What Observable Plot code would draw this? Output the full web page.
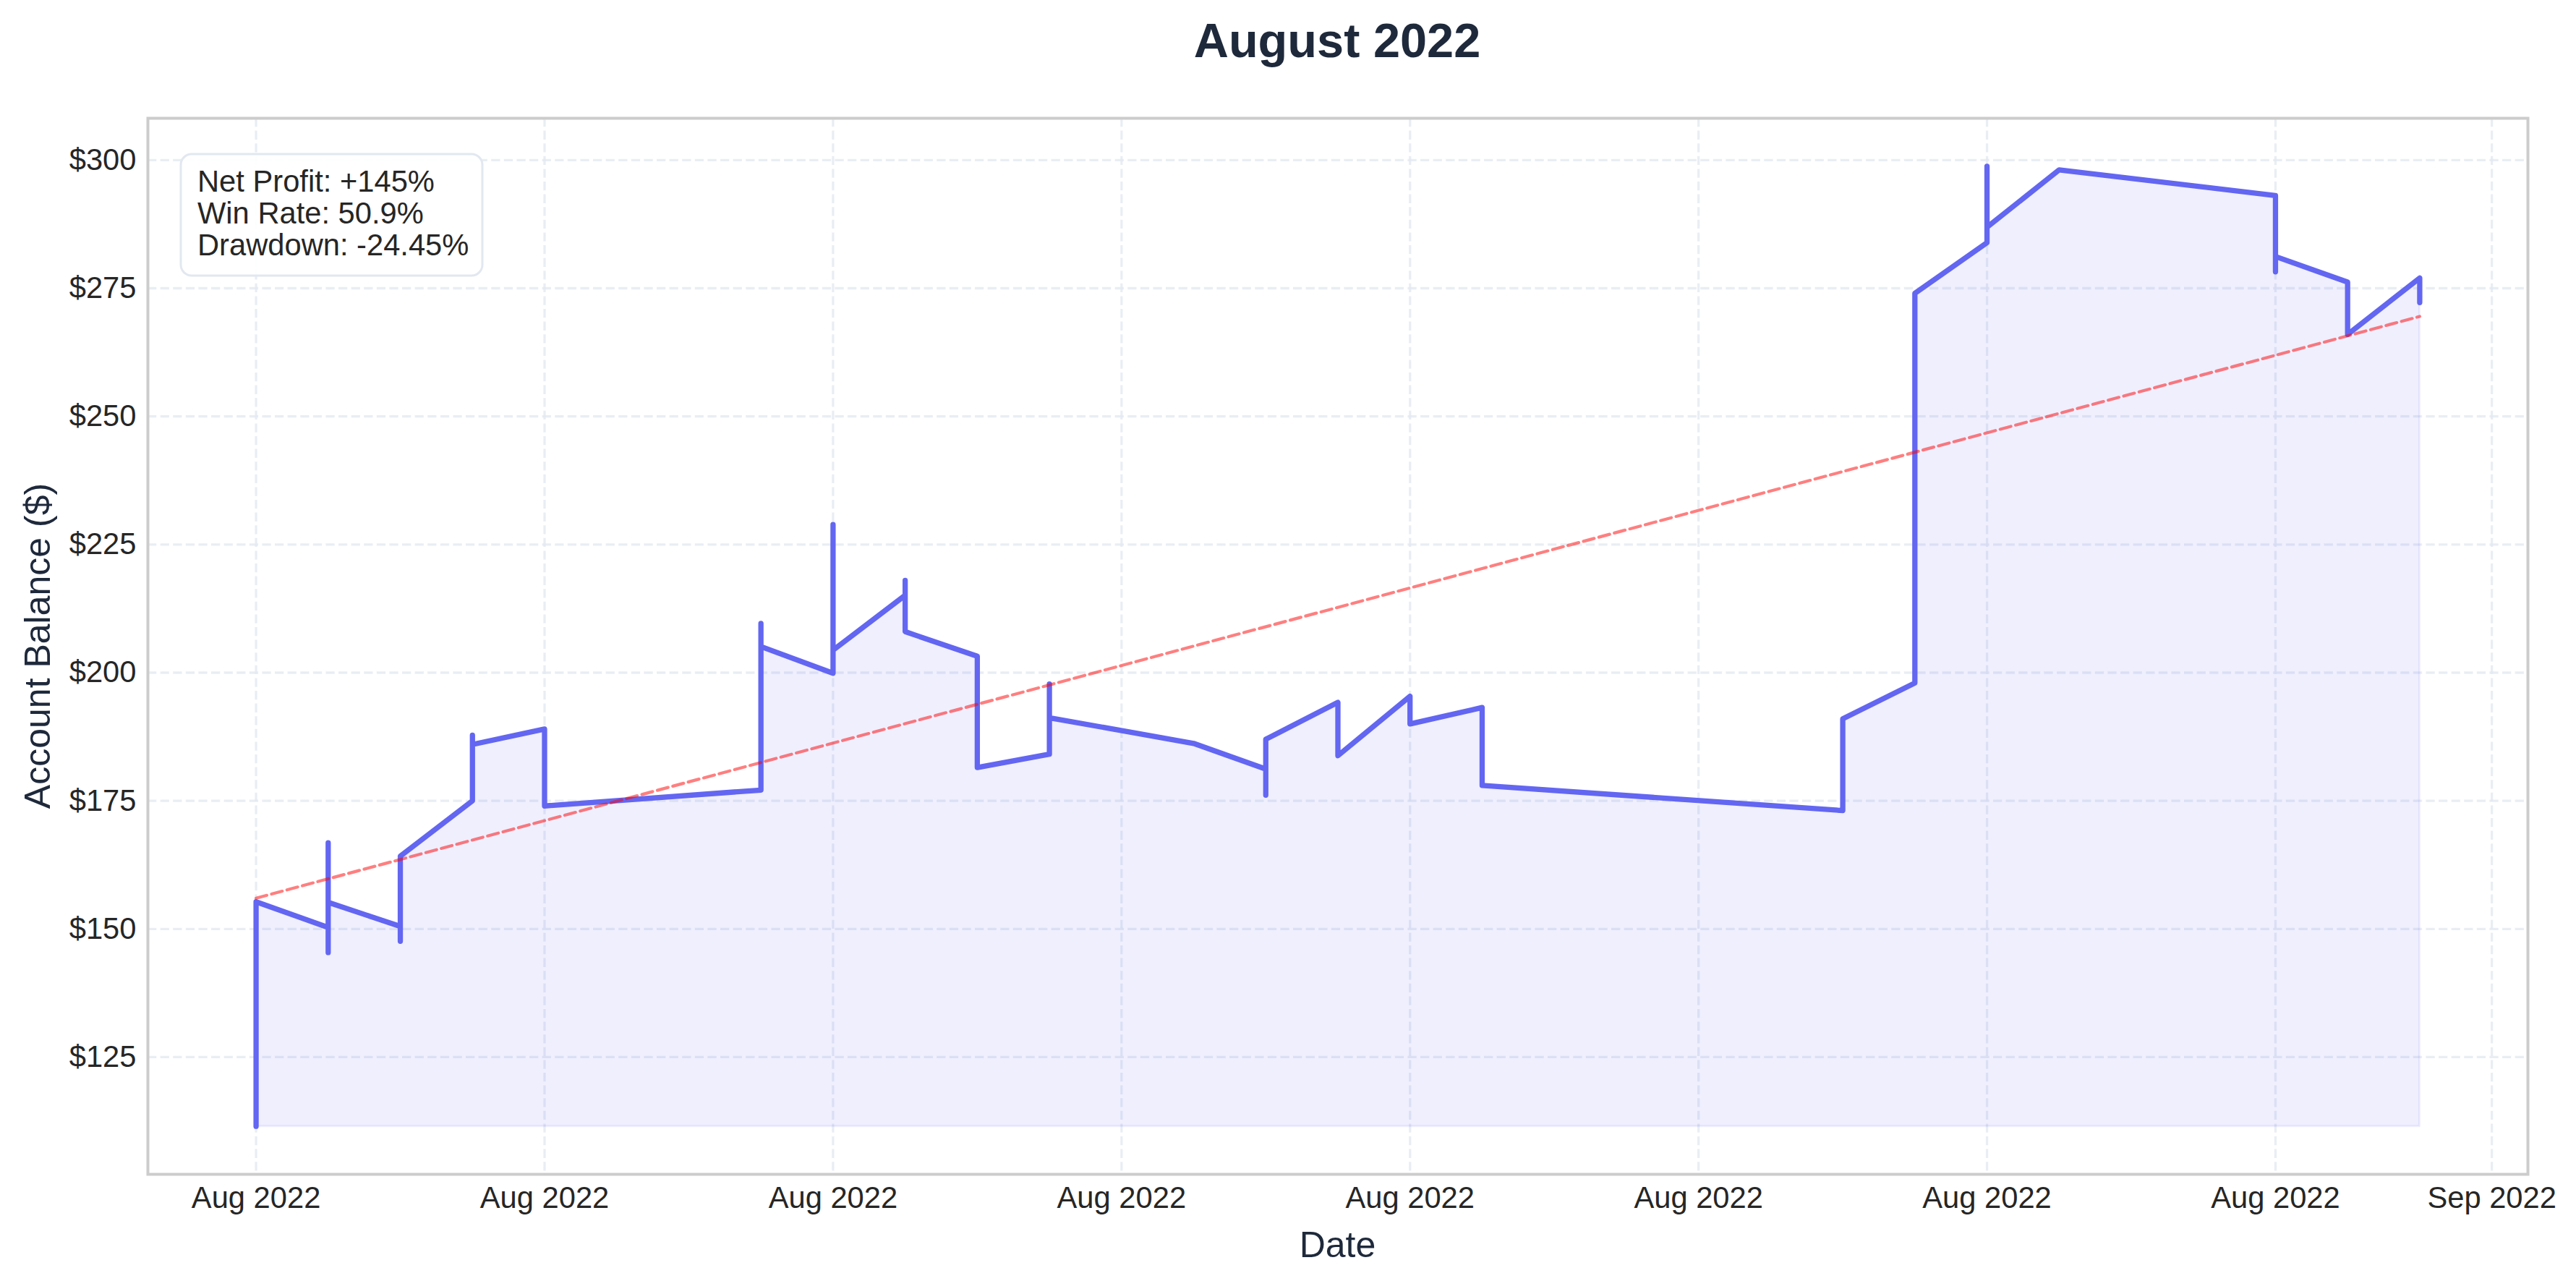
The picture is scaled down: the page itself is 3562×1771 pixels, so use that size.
<!DOCTYPE html>
<html>
<head>
<meta charset="utf-8">
<script src="https://cdn.jsdelivr.net/npm/d3@7"></script>
<script src="https://cdn.jsdelivr.net/npm/@observablehq/plot@0.6"></script>
<style>
  html, body { margin: 0; padding: 0; background: #ffffff; }
  #chart { width: 3562px; height: 1771px; }
</style>
</head>
<body>
<div id="chart"></div>
<script>
// ---------- data ----------
const tradeDates = [
  "2022-08-01","2022-08-01",
  "2022-08-02","2022-08-02","2022-08-02","2022-08-02",
  "2022-08-03","2022-08-03","2022-08-03",
  "2022-08-04","2022-08-04","2022-08-04",
  "2022-08-05","2022-08-05",
  "2022-08-08","2022-08-08","2022-08-08",
  "2022-08-09","2022-08-09","2022-08-09",
  "2022-08-10","2022-08-10","2022-08-10",
  "2022-08-11","2022-08-11",
  "2022-08-12","2022-08-12","2022-08-12",
  "2022-08-14",
  "2022-08-15","2022-08-15","2022-08-15",
  "2022-08-16","2022-08-16",
  "2022-08-17","2022-08-17",
  "2022-08-18","2022-08-18",
  "2022-08-23","2022-08-23",
  "2022-08-24","2022-08-24",
  "2022-08-25","2022-08-25","2022-08-25",
  "2022-08-26",
  "2022-08-29","2022-08-29","2022-08-29",
  "2022-08-30","2022-08-30",
  "2022-08-31","2022-08-31"
];
const balances = [
  111.5, 155.3,
  150.3, 145.4, 166.8, 155.2,
  150.5, 147.6, 164.2,
  175.0, 187.8, 186.0,
  189.0, 174.0,
  177.1, 209.6, 205.1,
  199.9, 228.9, 204.4,
  215.1, 218.0, 208.0,
  203.2, 181.5,
  184.1, 197.8, 191.2,
  186.2,
  181.2, 176.1, 187.0,
  194.2, 183.8,
  195.4, 190.0,
  193.2, 178.0,
  173.1, 191.0,
  198.0, 274.0,
  283.9, 298.8, 286.9,
  298.1,
  293.1, 278.2, 281.2,
  276.2, 266.0,
  277.0, 272.2
];
const trendDates = ["2022-08-01", "2022-08-31"];
const trendValues = [156.0, 269.5];
const xTickLabels = ["2022-08-01","2022-08-05","2022-08-09","2022-08-13","2022-08-17","2022-08-21","2022-08-25","2022-08-29","2022-09-01"];
const yTickValues = [125, 150, 175, 200, 225, 250, 275, 300];
const titleText = "August 2022";
const xLabelText = "Date";
const yLabelText = "Account Balance ($)";
const statsLines = ["Net Profit: +145%", "Win Rate: 50.9%", "Drawdown: -24.45%"];

// ---------- build ----------
const parse = d3.utcParse("%Y-%m-%d");
const data = tradeDates.map((d, i) => ({date: parse(d), balance: balances[i]}));
const trend = trendDates.map((d, i) => ({date: parse(d), value: trendValues[i]}));
const xTicks = xTickLabels.map(parse);

const [x0, x1] = d3.extent(data, d => d.date);
const xPad = (x1 - x0) * 0.05;
const [y0, y1] = d3.extent(balances);
const yPad = (y1 - y0) * 0.05;
const base = y0;

const FONT = '"Liberation Sans", Arial, Helvetica, sans-serif';
const gridStyle = {stroke: "#e2e8f0", strokeOpacity: 0.75, strokeWidth: 3.3, strokeDasharray: "12.3,5.3"};

const svg = Plot.plot({
  width: 3562,
  height: 1771,
  marginLeft: 204,
  marginRight: 67,
  marginTop: 163,
  marginBottom: 148,
  style: {fontFamily: FONT, fontSize: "41.7px", color: "#262626", background: "#ffffff", overflow: "visible"},
  x: {type: "utc", domain: [new Date(+x0 - xPad), new Date(+x1 + xPad)], label: null},
  y: {domain: [y0 - yPad, y1 + yPad], label: null},
  marks: [
    Plot.gridX(xTicks, gridStyle),
    Plot.gridY(yTickValues, gridStyle),
    Plot.areaY(data, {x: "date", y1: () => base, y2: "balance", fill: "#6366f1", fillOpacity: 0.1,
      stroke: "#6366f1", strokeOpacity: 0.1, strokeWidth: 3}),
    Plot.line(data, {x: "date", y: "balance", stroke: "#6366f1", strokeWidth: 7.3,
      strokeLinejoin: "round", strokeLinecap: "round"}),
    Plot.line(trend, {x: "date", y: "value", stroke: "#ff0000", strokeOpacity: 0.5, strokeWidth: 4.2,
      strokeDasharray: "15.4,6.7"}),
    Plot.frame({stroke: "#cccccc", strokeWidth: 4}),
    Plot.axisX(xTicks, {tickSize: 0, tickPadding: 17, tickFormat: d3.utcFormat("%b %Y"), label: null, fontSize: 41.7}),
    Plot.axisY(yTickValues, {tickSize: 0, tickPadding: 16, tickFormat: d => "$" + d, label: null, fontSize: 41.7})
  ]
});

const s = d3.select(svg);
// title
s.append("text")
  .attr("x", 1849).attr("y", 79)
  .attr("text-anchor", "middle")
  .attr("font-family", FONT).attr("font-size", 66.7).attr("font-weight", "bold")
  .attr("fill", "#1e293b")
  .text(titleText);
// x label
s.append("text")
  .attr("x", 1849.5).attr("y", 1738)
  .attr("text-anchor", "middle")
  .attr("font-family", FONT).attr("font-size", 50)
  .attr("fill", "#1e293b")
  .text(xLabelText);
// y label
s.append("text")
  .attr("transform", "translate(69,893) rotate(-90)")
  .attr("text-anchor", "middle")
  .attr("font-family", FONT).attr("font-size", 50)
  .attr("fill", "#1e293b")
  .text(yLabelText);
// stats box
const box = s.append("g").attr("text-anchor", "start");
box.append("rect")
  .attr("x", 250).attr("y", 213).attr("width", 417).attr("height", 168)
  .attr("rx", 15).attr("ry", 15)
  .attr("fill", "#ffffff").attr("fill-opacity", 0.9)
  .attr("stroke", "#e2e8f0").attr("stroke-width", 3);
box.selectAll("text.stat").data(statsLines).join("text")
  .attr("class", "stat")
  .attr("x", 273)
  .attr("y", (d, i) => 265 + i * 44)
  .attr("text-anchor", "start")
  .attr("font-family", FONT).attr("font-size", 41.7)
  .attr("fill", "#262626")
  .text(d => d);

document.getElementById("chart").appendChild(svg);
</script>
</body>
</html>
